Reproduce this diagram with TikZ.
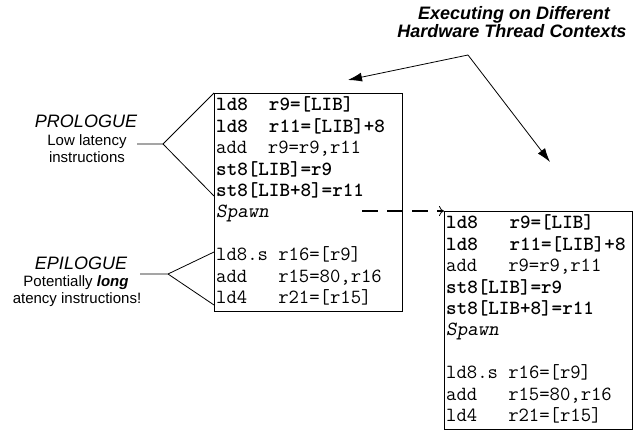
\documentclass[tikz,border=0pt]{standalone}
\usepackage{fontspec}
\setmainfont{Liberation Sans}
\usetikzlibrary{arrows.meta}
\begin{document}
\begin{tikzpicture}[x=1pt,y=-1pt,
  codebox/.style={draw, line width=0.8pt, minimum width=188pt, minimum height=218pt, inner sep=0pt, anchor=north west},
  codeline/.style={anchor=base west, inner sep=0pt, font=\ttfamily\fontsize{20.1}{20}\selectfont},
  bcode/.style={anchor=base west, inner sep=0pt, font=\ttfamily\fontsize{20.1}{20}\selectfont\bfseries},
  icode/.style={anchor=base west, inner sep=0pt, font=\ttfamily\fontsize{20.1}{20}\selectfont\slshape},
  conn/.style={line width=0.8pt},
  titlefont/.style={font=\fontsize{18}{18}\selectfont\bfseries\itshape, inner sep=0pt, anchor=base},
  headfont/.style={font=\fontsize{18}{18}\selectfont\itshape, inner sep=0pt, anchor=base},
  subfont/.style={font=\fontsize{15}{17}\selectfont, inner sep=0pt, anchor=base},
  fillarrow/.style={line width=0.8pt, -{Latex[length=14pt,width=9pt]}},
  spawnarrow/.style={line width=1.6pt, dash pattern=on 16pt off 9pt, -{To[length=5pt,width=10pt,line width=0.8pt]}}
]
\useasboundingbox (0,0) rectangle (643,430);

% boxes
\node[codebox] (L) at (214,93) {};
\node[codebox] (R) at (444,211) {};

% left code
\node[bcode]  (L1)  at (216,111.0) {ld8~~r9=[LIB]};
\node[bcode]  (L2)  at (216,132.4) {ld8~~r11=[LIB]+8};
\node[codeline] (L3) at (216,153.8) {add~~r9=r9,r11};
\node[bcode]  (L4)  at (216,175.2) {st8[LIB]=r9};
\node[bcode]  (L5)  at (216,196.6) {st8[LIB+8]=r11};
\node[icode]  (L6)  at (216,218.0) {Spawn};
\node[codeline] (L8) at (216,260.8) {ld8.s~r16=[r9]};
\node[codeline] (L9) at (216,282.2) {add~~~r15=80,r16};
\node[codeline] (L10) at (216,303.6) {ld4~~~r21=[r15]};

% right code
\node[bcode]  (R1)  at (446,229.0) {ld8~~~r9=[LIB]};
\node[bcode]  (R2)  at (446,250.4) {ld8~~~r11=[LIB]+8};
\node[codeline] (R3) at (446,271.8) {add~~~r9=r9,r11};
\node[bcode]  (R4)  at (446,293.2) {st8[LIB]=r9};
\node[bcode]  (R5)  at (446,314.6) {st8[LIB+8]=r11};
\node[icode]  (R6)  at (446,336.0) {Spawn};
\node[codeline] (R8) at (446,378.8) {ld8.s~r16=[r9]};
\node[codeline] (R9) at (446,400.2) {add~~~r15=80,r16};
\node[codeline] (R10) at (446,421.6) {ld4~~~r21=[r15]};

% title
\node[titlefont] (T1) at (514,20) {Executing on Different};
\node[titlefont] (T2) at (512,38) {Hardware Thread Contexts};
\coordinate (tsrc) at (468,55);
\coordinate (tL) at (348,80);
\coordinate (tR) at (550,162);
\draw[fillarrow] (tsrc) -- (tL);
\draw[fillarrow] (tsrc) -- (tR);

% prologue
\node[headfont] (P1) at (86,128) {PROLOGUE};
\node[subfont] (P2) at (87,146) {Low latency};
\node[subfont] (P3) at (87,163) {instructions};
\coordinate (pA) at (137,144);
\coordinate (pX) at (163,144);
\coordinate (pB) at (214,196);
\draw[conn] (pA) -- (pX) -- (L.north west);
\draw[conn] (pX) -- (pB);

% epilogue
\node[headfont] (E1) at (81,270) {EPILOGUE};
\node[subfont] (E2) at (76,287) {Potentially \textbf{\textit{long}}};
\node[subfont] (E3) at (77,304) {atency instructions!};
\coordinate (eA) at (140,274);
\coordinate (eX) at (168,274);
\coordinate (eT) at (214,252);
\coordinate (eB) at (214,305);
\draw[conn] (eA) -- (eX) -- (eT);
\draw[conn] (eX) -- (eB);

% spawn arrow
\coordinate (sp) at (362,211);
\draw[spawnarrow] (sp) -- (R.north west);
\end{tikzpicture}
\end{document}
